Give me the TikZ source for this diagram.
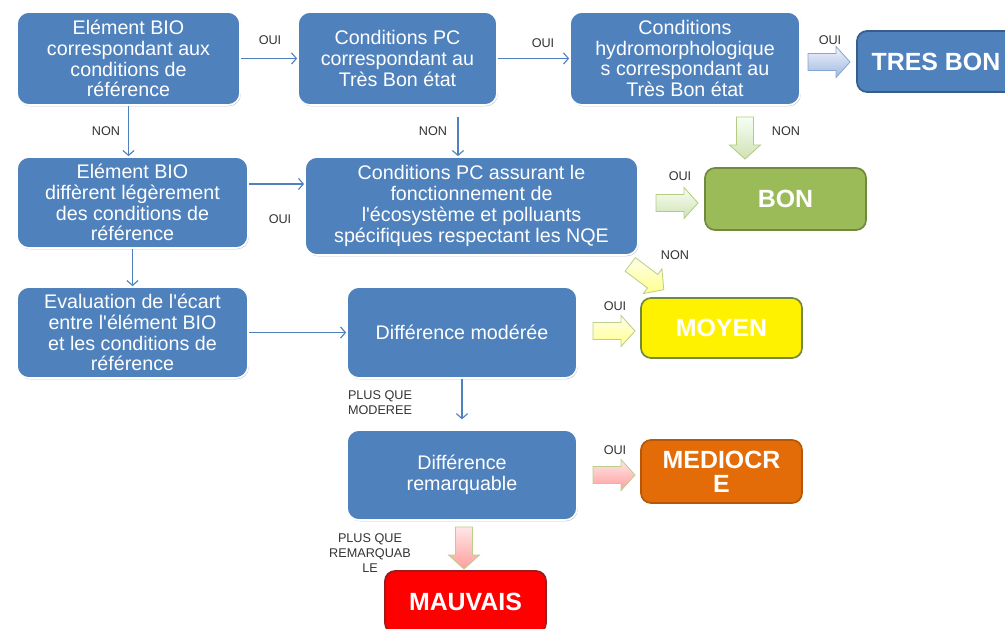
\documentclass[tikz,border=0pt]{standalone}
\usepackage{fontspec}
\setmainfont{Liberation Sans}[Ligatures=TeXOff]
\usetikzlibrary{arrows.meta,shadows,calc}

\definecolor{bleu}{HTML}{4F81BD}
\definecolor{bleufonce}{HTML}{385D8A}
\definecolor{vert}{HTML}{9BBB59}
\definecolor{vertfonce}{HTML}{71893F}
\definecolor{orange}{HTML}{E36C09}
\definecolor{orangefonce}{HTML}{B65708}
\definecolor{rouge}{HTML}{FF0000}
\definecolor{rougefonce}{HTML}{9C1C1C}

\tikzset{
  bloc/.style={rounded corners=0.3cm, fill=bleu, draw=white, line width=1.2pt,
    text=white, align=center, inner sep=2pt,
    font=\fontsize{14}{14.8}\selectfont,
    drop shadow={shadow xshift=0.6pt, shadow yshift=-0.9pt, opacity=0.3, fill=black!70}},
  etat/.style={rounded corners=0.25cm, line width=1.2pt, text=white, align=center,
    minimum width=4.025cm, minimum height=1.55cm,
    font=\fontsize{17.7}{17}\selectfont\bfseries},
  lien/.style={draw=bleu, line width=0.8pt, -{Straight Barb[length=3.5pt,width=8pt]}},
  lbl/.style={font=\fontsize{9}{10.5}\selectfont, text=black!80, inner sep=1pt},
  fleche/.pic={\path[pic actions] (-21,-8.5) -- (7,-8.5) -- (7,-15.5) -- (21,0)
    -- (7,15.5) -- (7,8.5) -- (-21,8.5) -- cycle;},
  fbleue/.style={top color=blue!5!white, bottom color=bleu!55!white, draw=bleu!70!white, line width=0.6pt},
  fverte/.style={top color=green!4!white, bottom color=vert!45!white, draw=vert!75!white, line width=0.6pt},
  fjaune/.style={top color=yellow!8!white, bottom color=yellow!45!white, draw=vert!70!white, line width=0.6pt},
  frose/.style={top color=red!10!white, bottom color=red!38!white, draw=vert!70!white, line width=0.6pt}
}

\begin{document}
\begin{tikzpicture}[x=0.025cm,y=-0.025cm]
\useasboundingbox (0,0) rectangle (1005,629);

\node[bloc,minimum width=5.575cm,minimum height=2.325cm] (bio1) at (128.5,58.5) {Elément BIO\\correspondant aux\\conditions de\\référence};
\node[bloc,minimum width=4.975cm,minimum height=2.325cm] (pc1) at (397.5,58.5) {Conditions PC\\correspondant au\\Très Bon état};
\node[bloc,minimum width=5.75cm,minimum height=2.325cm] (hydro) at (685,58.5) {Conditions\\hydromorphologique\\s correspondant au\\Très Bon état};
\node[etat,fill=bleu,draw=bleufonce,minimum width=3.95cm,minimum height=1.525cm] (tresbon) at (936,61.5) {TRES BON};

\node[bloc,minimum width=5.775cm,minimum height=2.275cm] (bio2) at (132.5,202.5) {Elément BIO\\diffèrent légèrement\\des conditions de\\référence};
\node[bloc,minimum width=8.325cm,minimum height=2.45cm] (pc2) at (471.5,206) {Conditions PC assurant le\\fonctionnement de\\l'écosystème et polluants\\spécifiques respectant les NQE};
\node[etat,fill=vert,draw=vertfonce] (bon) at (785.5,199) {BON};

\node[bloc,minimum width=5.775cm,minimum height=2.275cm] (ecart) at (132.5,332.5) {Evaluation de l'écart\\entre l'élément BIO\\et les conditions de\\référence};
\node[bloc,minimum width=5.75cm,minimum height=2.275cm] (modere) at (462,332.5) {Différence modérée};
\node[etat,fill=yellow,draw=vertfonce,minimum height=1.5cm] (moyen) at (721.5,328) {MOYEN};

\node[bloc,minimum width=5.75cm,minimum height=2.25cm] (remarq) at (462,475) {Différence\\remarquable};
\node[etat,fill=orange,draw=orangefonce,minimum height=1.575cm] (mediocre) at (721.5,471.5) {MEDIOCR\\E};
\node[etat,fill=rouge,draw=rougefonce] (mauvais) at (465.5,602) {MAUVAIS};

\draw[lien] (bio1) -- (pc1);
\draw[lien] (pc1) -- (hydro);
\draw[lien] (bio1.south) -- (bio1.south |- bio2.north);
\coordinate (nonpc) at (458,117);
\draw[lien] (nonpc) -- (nonpc |- pc2.north);
\draw[lien] ($(bio2.north east)!.3!(bio2.south east)$) coordinate (oui2) -- (oui2 -| pc2.west);
\draw[lien] (bio2) -- (ecart);
\draw[lien] (ecart) -- (modere);
\draw[lien,shorten >=7pt] (modere) -- (remarq);

\pic[fbleue] (f1) at (829,62) {fleche};
\pic[fverte,rotate=-90] (f2) at (745,138) {fleche};
\pic[fverte] (f3) at (677,203) {fleche};
\pic[fjaune,rotate=-37] (f4) at (647,277) {fleche};
\pic[fjaune] (f5) at (614,331) {fleche};
\pic[frose] (f6) at (614,475) {fleche};
\pic[frose,rotate=-90] (f7) at (464,548) {fleche};

\node[lbl] (l1) at (270,40) {OUI};
\node[lbl] (l2) at (543,43) {OUI};
\node[lbl] (l3) at (830,40) {OUI};
\node[lbl] (l4) at (106,131) {NON};
\node[lbl] (l5) at (433,131) {NON};
\node[lbl] (l6) at (786,131) {NON};
\node[lbl] (l7) at (280,219) {OUI};
\node[lbl] (l8) at (680,176) {OUI};
\node[lbl] (l9) at (675,255) {NON};
\node[lbl] (l10) at (615,306) {OUI};
\node[lbl,align=left] (l11) at (380,403) {PLUS QUE\\MODEREE};
\node[lbl] (l12) at (615,450) {OUI};
\node[lbl,align=center] (l13) at (370,553) {PLUS QUE\\REMARQUAB\\LE};
\end{tikzpicture}
\end{document}
